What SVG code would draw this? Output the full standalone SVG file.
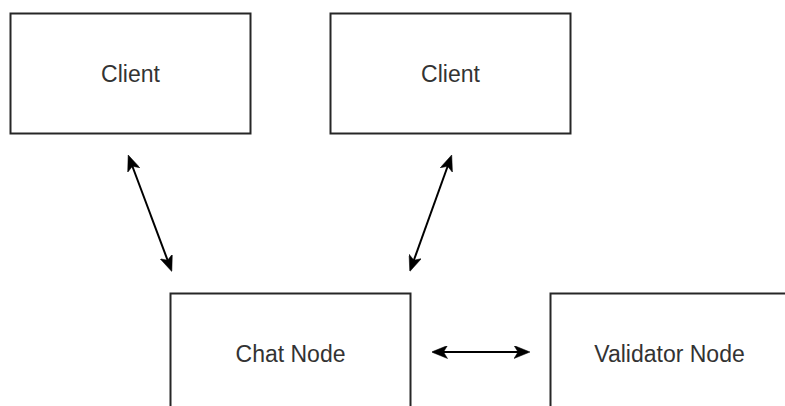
<svg xmlns="http://www.w3.org/2000/svg" width="785" height="406" viewBox="0 0 785 406">
<defs>
<style>
.box{fill:#fff;stroke:#262626;stroke-width:2}
.lbl{font-family:"Liberation Sans",Arial,sans-serif;font-size:23px;fill:#333;text-anchor:middle;dominant-baseline:central}
.edge{stroke:#000;stroke-width:2;fill:none;marker-start:url(#ah);marker-end:url(#ah)}
</style>
<marker id="ah" viewBox="0 0 16 13" markerUnits="userSpaceOnUse" markerWidth="16" markerHeight="13" refX="8" refY="6.5" orient="auto-start-reverse">
<path d="M0,0 L16,6.5 L0,13 L4,6.5 Z" fill="#000" stroke="#000" stroke-width="0.5" stroke-linejoin="miter"/>
</marker>
</defs>
<rect width="785" height="406" fill="#fff"/>
<g id="client1"><rect class="box" x="10.5" y="13.5" width="240" height="120"/><text class="lbl" x="130.5" y="73.5">Client</text></g>
<g id="client2"><rect class="box" x="330.5" y="13.5" width="240" height="120"/><text class="lbl" x="450.5" y="73.5">Client</text></g>
<g id="chat"><rect class="box" x="170.5" y="293.5" width="240" height="120"/><text class="lbl" x="290.5" y="353.5">Chat Node</text></g>
<g id="validator"><rect class="box" x="550.5" y="293.5" width="240" height="120"/><text class="lbl" x="669.5" y="353.5">Validator Node</text></g>
<g id="connectors">
<line class="edge" x1="131" y1="162.5" x2="169" y2="264"/>
<line class="edge" x1="449" y1="162.5" x2="412.5" y2="264"/>
<line class="edge" x1="439.5" y1="352" x2="522" y2="352"/>
</g>
</svg>
